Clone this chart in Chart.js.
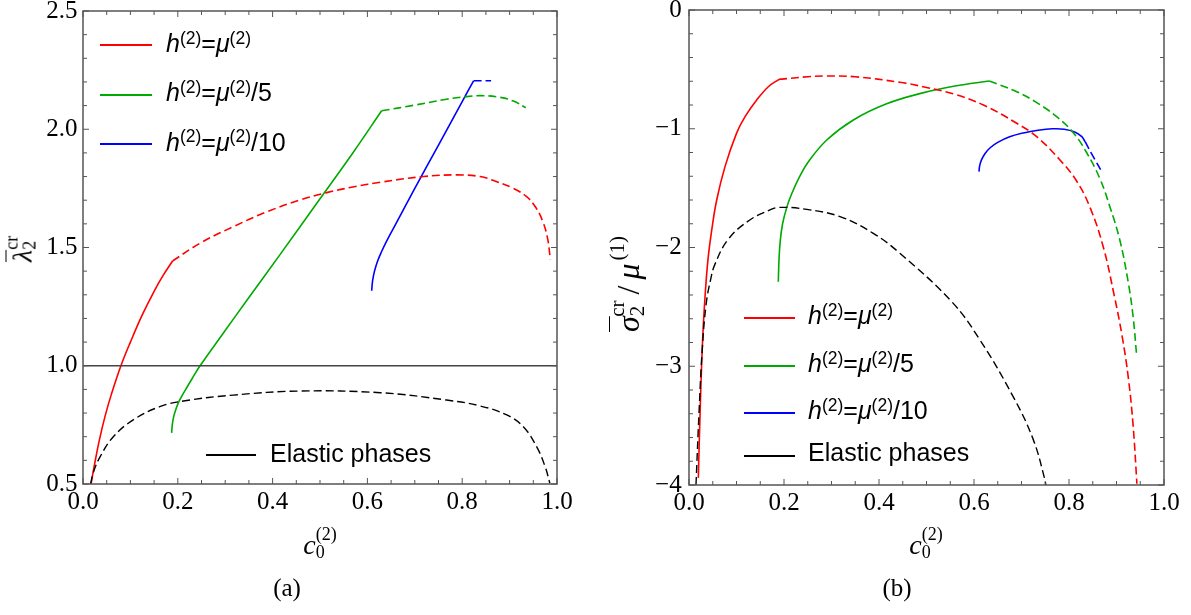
<!DOCTYPE html>
<html>
<head>
<meta charset="utf-8">
<script src="https://cdn.jsdelivr.net/npm/chart.js@4.4.1/dist/chart.umd.min.js"></script>
<style>
  html, body { margin: 0; padding: 0; background: #fff; }
  #wrap { position: relative; width: 1191px; height: 615px; overflow: hidden; }
  canvas { position: absolute; top: 0; }
  .key { position: absolute; height: 2px; }
  .lab { position: absolute; font: 25px/25px 'Liberation Sans', Arial, sans-serif; white-space: nowrap; color: #000; }
  .lab sup { font-size: 0.7em; vertical-align: baseline; position: relative; top: -0.46em; line-height: 0; }
  .math { position: absolute; font: 28px/28px 'Liberation Serif', 'Times New Roman', serif; white-space: nowrap; color: #000; }
  .math .sb { font-size: 18px; position: relative; top: 4px; }
  .math .sp { font-size: 18px; position: relative; top: -14px; }
  .math .ob { text-decoration: overline; text-decoration-thickness: 1.2px; }
  .math.big { font-size: 32px; }
  .math.big .sb { font-size: 21px; top: 5px; }
  .math.big .sp { font-size: 21px; top: -15px; }
  .rot { transform: translate(-50%, -50%) rotate(-90deg); }
  .hc { transform: translateX(-50%); }
  .cap { position: absolute; font: 25px/25px 'Liberation Serif', 'Times New Roman', serif; color: #000; transform: translateX(-50%); }
</style>
</head>
<body>
<div id="wrap">
  <canvas id="chartA" width="600" height="615" style="left:0"></canvas>
  <canvas id="chartB" width="591" height="615" style="left:600px"></canvas>

  <!-- panel (a) legend -->
  <div class="key" style="left:100px;top:44px;width:52px;background:#ff0000"></div>
  <div class="lab" style="left:166px;top:31px"><i>h</i><sup>(2)</sup>=<i>μ</i><sup>(2)</sup></div>
  <div class="key" style="left:100px;top:94px;width:52px;background:#00aa00"></div>
  <div class="lab" style="left:166px;top:80px"><i>h</i><sup>(2)</sup>=<i>μ</i><sup>(2)</sup>/5</div>
  <div class="key" style="left:100px;top:143px;width:52px;background:#0000ff"></div>
  <div class="lab" style="left:166px;top:129.5px"><i>h</i><sup>(2)</sup>=<i>μ</i><sup>(2)</sup>/10</div>
  <div class="key" style="left:206px;top:454px;width:50px;background:#000"></div>
  <div class="lab" style="left:270px;top:440.5px">Elastic phases</div>

  <!-- panel (b) legend -->
  <div class="key" style="left:744px;top:317px;width:51px;background:#ff0000"></div>
  <div class="lab" style="left:808px;top:303.3px"><i>h</i><sup>(2)</sup>=<i>μ</i><sup>(2)</sup></div>
  <div class="key" style="left:744px;top:365px;width:51px;background:#00aa00"></div>
  <div class="lab" style="left:808px;top:350.7px"><i>h</i><sup>(2)</sup>=<i>μ</i><sup>(2)</sup>/5</div>
  <div class="key" style="left:744px;top:412px;width:51px;background:#0000ff"></div>
  <div class="lab" style="left:808px;top:398.3px"><i>h</i><sup>(2)</sup>=<i>μ</i><sup>(2)</sup>/10</div>
  <div class="key" style="left:744px;top:455px;width:51px;background:#000"></div>
  <div class="lab" style="left:808px;top:440px">Elastic phases</div>

  <!-- axis titles -->
  <div class="math rot" style="left:24px;top:249px"><i class="ob">λ</i><span class="sb">2</span><span class="sp" style="margin-left:-9px">cr</span></div>
  <div class="math hc" style="left:320px;top:531px"><i>c</i><span class="sb">0</span><span class="sp" style="margin-left:-9px">(2)</span></div>
  <div class="math big rot" style="left:630px;top:284px"><i class="ob">σ</i><span class="sb">2</span><span class="sp" style="margin-left:-11px">cr</span><span style="margin:0 6px">/</span><i>μ</i><span class="sp" style="margin-left:3px">(1)</span></div>
  <div class="math hc" style="left:926px;top:531px"><i>c</i><span class="sb">0</span><span class="sp" style="margin-left:-9px">(2)</span></div>

  <!-- panel captions -->
  <div class="cap" style="left:287px;top:575px">(a)</div>
  <div class="cap" style="left:897px;top:575px">(b)</div>
</div>

<script>
// ---------- panel (a): critical stretch vs. volume fraction ----------
const aRedSolidX   = [0.017, 0.025, 0.035, 0.047, 0.06, 0.08, 0.10, 0.125, 0.15, 0.17, 0.189];
const aRedSolidY   = [0.50, 0.59, 0.69, 0.79, 0.88, 1.00, 1.10, 1.215, 1.315, 1.385, 1.443];
const aRedDashX    = [0.189, 0.247, 0.317, 0.388, 0.458, 0.514, 0.575, 0.627, 0.718, 0.788, 0.838, 0.873, 0.908, 0.936, 0.955, 0.970, 0.980, 0.986];
const aRedDashY    = [1.443, 1.518, 1.588, 1.651, 1.701, 1.732, 1.758, 1.776, 1.800, 1.807, 1.800, 1.778, 1.750, 1.715, 1.670, 1.610, 1.540, 1.450];
const aGreenSolidX = [0.187, 0.1885, 0.191, 0.195, 0.200, 0.207, 0.217, 0.230, 0.247, 0.30, 0.345, 0.4156, 0.50, 0.57, 0.630];
const aGreenSolidY = [0.716, 0.752, 0.782, 0.810, 0.838, 0.866, 0.901, 0.945, 1.00, 1.149, 1.275, 1.470, 1.706, 1.902, 2.078];
const aGreenDashX  = [0.630, 0.697, 0.767, 0.809, 0.841, 0.880, 0.908, 0.934];
const aGreenDashY  = [2.078, 2.101, 2.127, 2.138, 2.142, 2.135, 2.119, 2.091];
const aBlueSolidX  = [0.609, 0.611, 0.615, 0.621, 0.63, 0.64, 0.66, 0.70, 0.75, 0.80, 0.824];
const aBlueSolidY  = [1.317, 1.36, 1.40, 1.44, 1.483, 1.525, 1.60, 1.75, 1.933, 2.117, 2.205];
const aBlueDashX   = [0.824, 0.861];
const aBlueDashY   = [2.205, 2.205];
const aElasticX    = [0.016, 0.022, 0.036, 0.064, 0.106, 0.162, 0.212, 0.317, 0.458, 0.627, 0.767, 0.838, 0.894, 0.929, 0.957, 0.975, 0.985];
const aElasticY    = [0.50, 0.55, 0.615, 0.70, 0.771, 0.827, 0.851, 0.876, 0.893, 0.886, 0.855, 0.830, 0.792, 0.742, 0.658, 0.573, 0.503];
const aUnityX      = [0, 1];
const aUnityY      = [1, 1];

// ---------- panel (b): critical stress vs. volume fraction ----------
const bRedSolidX   = [0.0196, 0.024, 0.029, 0.034, 0.040, 0.048, 0.0583, 0.0758, 0.100, 0.118, 0.1425, 0.167, 0.1895];
const bRedSolidY   = [-3.94, -3.30, -2.75, -2.40, -2.10, -1.85, -1.600, -1.319, -1.039, -0.898, -0.758, -0.646, -0.584];
const bRedDashX    = [0.1895, 0.25, 0.29, 0.35, 0.444, 0.5, 0.557, 0.62, 0.69, 0.732, 0.781, 0.816, 0.844, 0.872, 0.895, 0.912, 0.925, 0.935, 0.943];
const bRedDashY    = [-0.584, -0.562, -0.556, -0.562, -0.609, -0.652, -0.707, -0.80, -0.954, -1.067, -1.263, -1.44, -1.66, -1.993, -2.40, -2.75, -3.1, -3.5, -3.99];
const bGreenSolidX = [0.188, 0.1895, 0.192, 0.197, 0.206, 0.216, 0.232, 0.251, 0.29, 0.346, 0.416, 0.49, 0.56, 0.632];
const bGreenSolidY = [-2.288, -2.10, -1.95, -1.80, -1.66, -1.55, -1.41, -1.28, -1.095, -0.926, -0.79, -0.70, -0.64, -0.598];
const bGreenDashX  = [0.632, 0.690, 0.732, 0.774, 0.809, 0.837, 0.865, 0.886, 0.907, 0.925, 0.935, 0.9425];
const bGreenDashY  = [-0.598, -0.688, -0.78, -0.898, -1.033, -1.20, -1.42, -1.656, -1.937, -2.30, -2.583, -2.914];
const bBlueSolidX  = [0.6105, 0.612, 0.616, 0.623, 0.634, 0.65, 0.675, 0.704, 0.735, 0.765, 0.79, 0.812, 0.827, 0.834];
const bBlueSolidY  = [-1.361, -1.31, -1.26, -1.21, -1.16, -1.115, -1.068, -1.035, -1.012, -1.0, -1.004, -1.028, -1.067, -1.109];
const bBlueDashX   = [0.834, 0.851, 0.869];
const bBlueDashY   = [-1.109, -1.235, -1.361];
const bElasticX    = [0.0147, 0.021, 0.028, 0.036, 0.045, 0.0547, 0.0828, 0.128, 0.1705, 0.19, 0.248, 0.318, 0.388, 0.444, 0.553, 0.6126, 0.683, 0.725, 0.7495, 0.751];
const bElasticY    = [-4.0, -3.40, -2.85, -2.48, -2.28, -2.14, -1.93, -1.768, -1.684, -1.662, -1.679, -1.74, -1.881, -2.049, -2.456, -2.779, -3.26, -3.62, -3.958, -4.0];

const RED = '#ff0000', GREEN = '#00aa00', BLUE = '#0000ff', BLACK = '#000000';
const DASH = [8, 4];
const SERIF = "'Liberation Serif', 'Times New Roman', serif";
const tickFont = { family: SERIF, size: 25 };

function curve(xs, ys, color, dashed, width) {
  return {
    data: xs.map((x, i) => ({ x: x, y: ys[i] })),
    borderColor: color,
    borderWidth: width || 1.6,
    borderDash: dashed ? DASH : [],
    pointRadius: 0,
    fill: false,
    tension: 0.4
  };
}

// Closed frame with inward major/minor ticks on all four sides.
const frameTicks = {
  id: 'frameTicks',
  afterDatasetsDraw(chart, args, o) {
    const { ctx, chartArea: a, scales } = chart;
    const xs = scales.x, ys = scales.y;
    ctx.save();
    ctx.strokeStyle = '#555';
    ctx.lineWidth = 1;
    const nx = Math.round((xs.max - xs.min) / o.xMinor);
    const kx = Math.round(o.xMajor / o.xMinor);
    for (let i = 0; i <= nx; i++) {
      const px = xs.getPixelForValue(xs.min + i * o.xMinor);
      const len = (i % kx === 0) ? 6 : 4;
      ctx.beginPath();
      ctx.moveTo(px, a.bottom); ctx.lineTo(px, a.bottom - len);
      ctx.moveTo(px, a.top); ctx.lineTo(px, a.top + len);
      ctx.stroke();
    }
    const ny = Math.round((ys.max - ys.min) / o.yMinor);
    const ky = Math.round(o.yMajor / o.yMinor);
    for (let i = 0; i <= ny; i++) {
      const py = ys.getPixelForValue(ys.min + i * o.yMinor);
      const len = (i % ky === 0) ? 6 : 4;
      ctx.beginPath();
      ctx.moveTo(a.left, py); ctx.lineTo(a.left + len, py);
      ctx.moveTo(a.right, py); ctx.lineTo(a.right - len, py);
      ctx.stroke();
    }
    ctx.lineWidth = 1.5;
    ctx.strokeRect(a.left, a.top, a.right - a.left, a.bottom - a.top);
    ctx.restore();
  }
};

function fixSize(prop, size) {
  return function (s) {
    s[prop] = size;
    s.paddingLeft = 0; s.paddingRight = 0; s.paddingTop = 0; s.paddingBottom = 0;
  };
}

function makeChart(id, datasets, cfg) {
  return new Chart(document.getElementById(id), {
    type: 'line',
    data: { datasets: datasets },
    options: {
      responsive: false,
      animation: false,
      devicePixelRatio: 1,
      events: [],
      layout: { padding: cfg.padding },
      plugins: { legend: { display: false }, tooltip: { enabled: false }, frameTicks: cfg.ticks },
      scales: {
        x: {
          type: 'linear', min: 0, max: 1,
          grid: { display: false, drawTicks: false },
          border: { display: false },
          ticks: { stepSize: 0.2, font: tickFont, color: '#000', padding: 3, maxRotation: 0, autoSkip: false,
                   callback: v => v.toFixed(1) },
          afterFit: fixSize('height', 40)
        },
        y: {
          type: 'linear', min: cfg.yMin, max: cfg.yMax,
          grid: { display: false, drawTicks: false },
          border: { display: false },
          ticks: { stepSize: cfg.yStep, font: tickFont, color: '#000', padding: cfg.yPad, autoSkip: false,
                   callback: cfg.yFmt },
          afterFit: fixSize('width', cfg.yWidth)
        }
      }
    },
    plugins: [frameTicks]
  });
}

makeChart('chartA', [
  curve(aUnityX, aUnityY, '#444', false, 1.3),
  curve(aElasticX, aElasticY, BLACK, true, 1.4),
  curve(aRedSolidX, aRedSolidY, RED, false),
  curve(aRedDashX, aRedDashY, RED, true),
  curve(aGreenSolidX, aGreenSolidY, GREEN, false),
  curve(aGreenDashX, aGreenDashY, GREEN, true),
  curve(aBlueSolidX, aBlueSolidY, BLUE, false),
  curve(aBlueDashX, aBlueDashY, BLUE, true)
], {
  padding: { left: 0, top: 11, right: 43, bottom: 91 },
  yMin: 0.5, yMax: 2.5, yStep: 0.5, yPad: 5.5, yWidth: 83,
  yFmt: v => v.toFixed(1),
  ticks: { xMinor: 0.05, xMajor: 0.2, yMinor: 0.1, yMajor: 0.5 }
});

makeChart('chartB', [
  curve(bElasticX, bElasticY, BLACK, true, 1.4),
  curve(bRedSolidX, bRedSolidY, RED, false),
  curve(bRedDashX, bRedDashY, RED, true),
  curve(bGreenSolidX, bGreenSolidY, GREEN, false),
  curve(bGreenDashX, bGreenDashY, GREEN, true),
  curve(bBlueSolidX, bBlueSolidY, BLUE, false),
  curve(bBlueDashX, bBlueDashY, BLUE, true)
], {
  padding: { left: 0, top: 10, right: 27, bottom: 90 },
  yMin: -4, yMax: 0, yStep: 1, yPad: 7.3, yWidth: 89,
  yFmt: v => (Math.abs(v) < 1e-9 ? '0' : '\u2212' + Math.abs(v)),
  ticks: { xMinor: 0.05, xMajor: 0.2, yMinor: 0.2, yMajor: 1 }
});
</script>
</body>
</html>
